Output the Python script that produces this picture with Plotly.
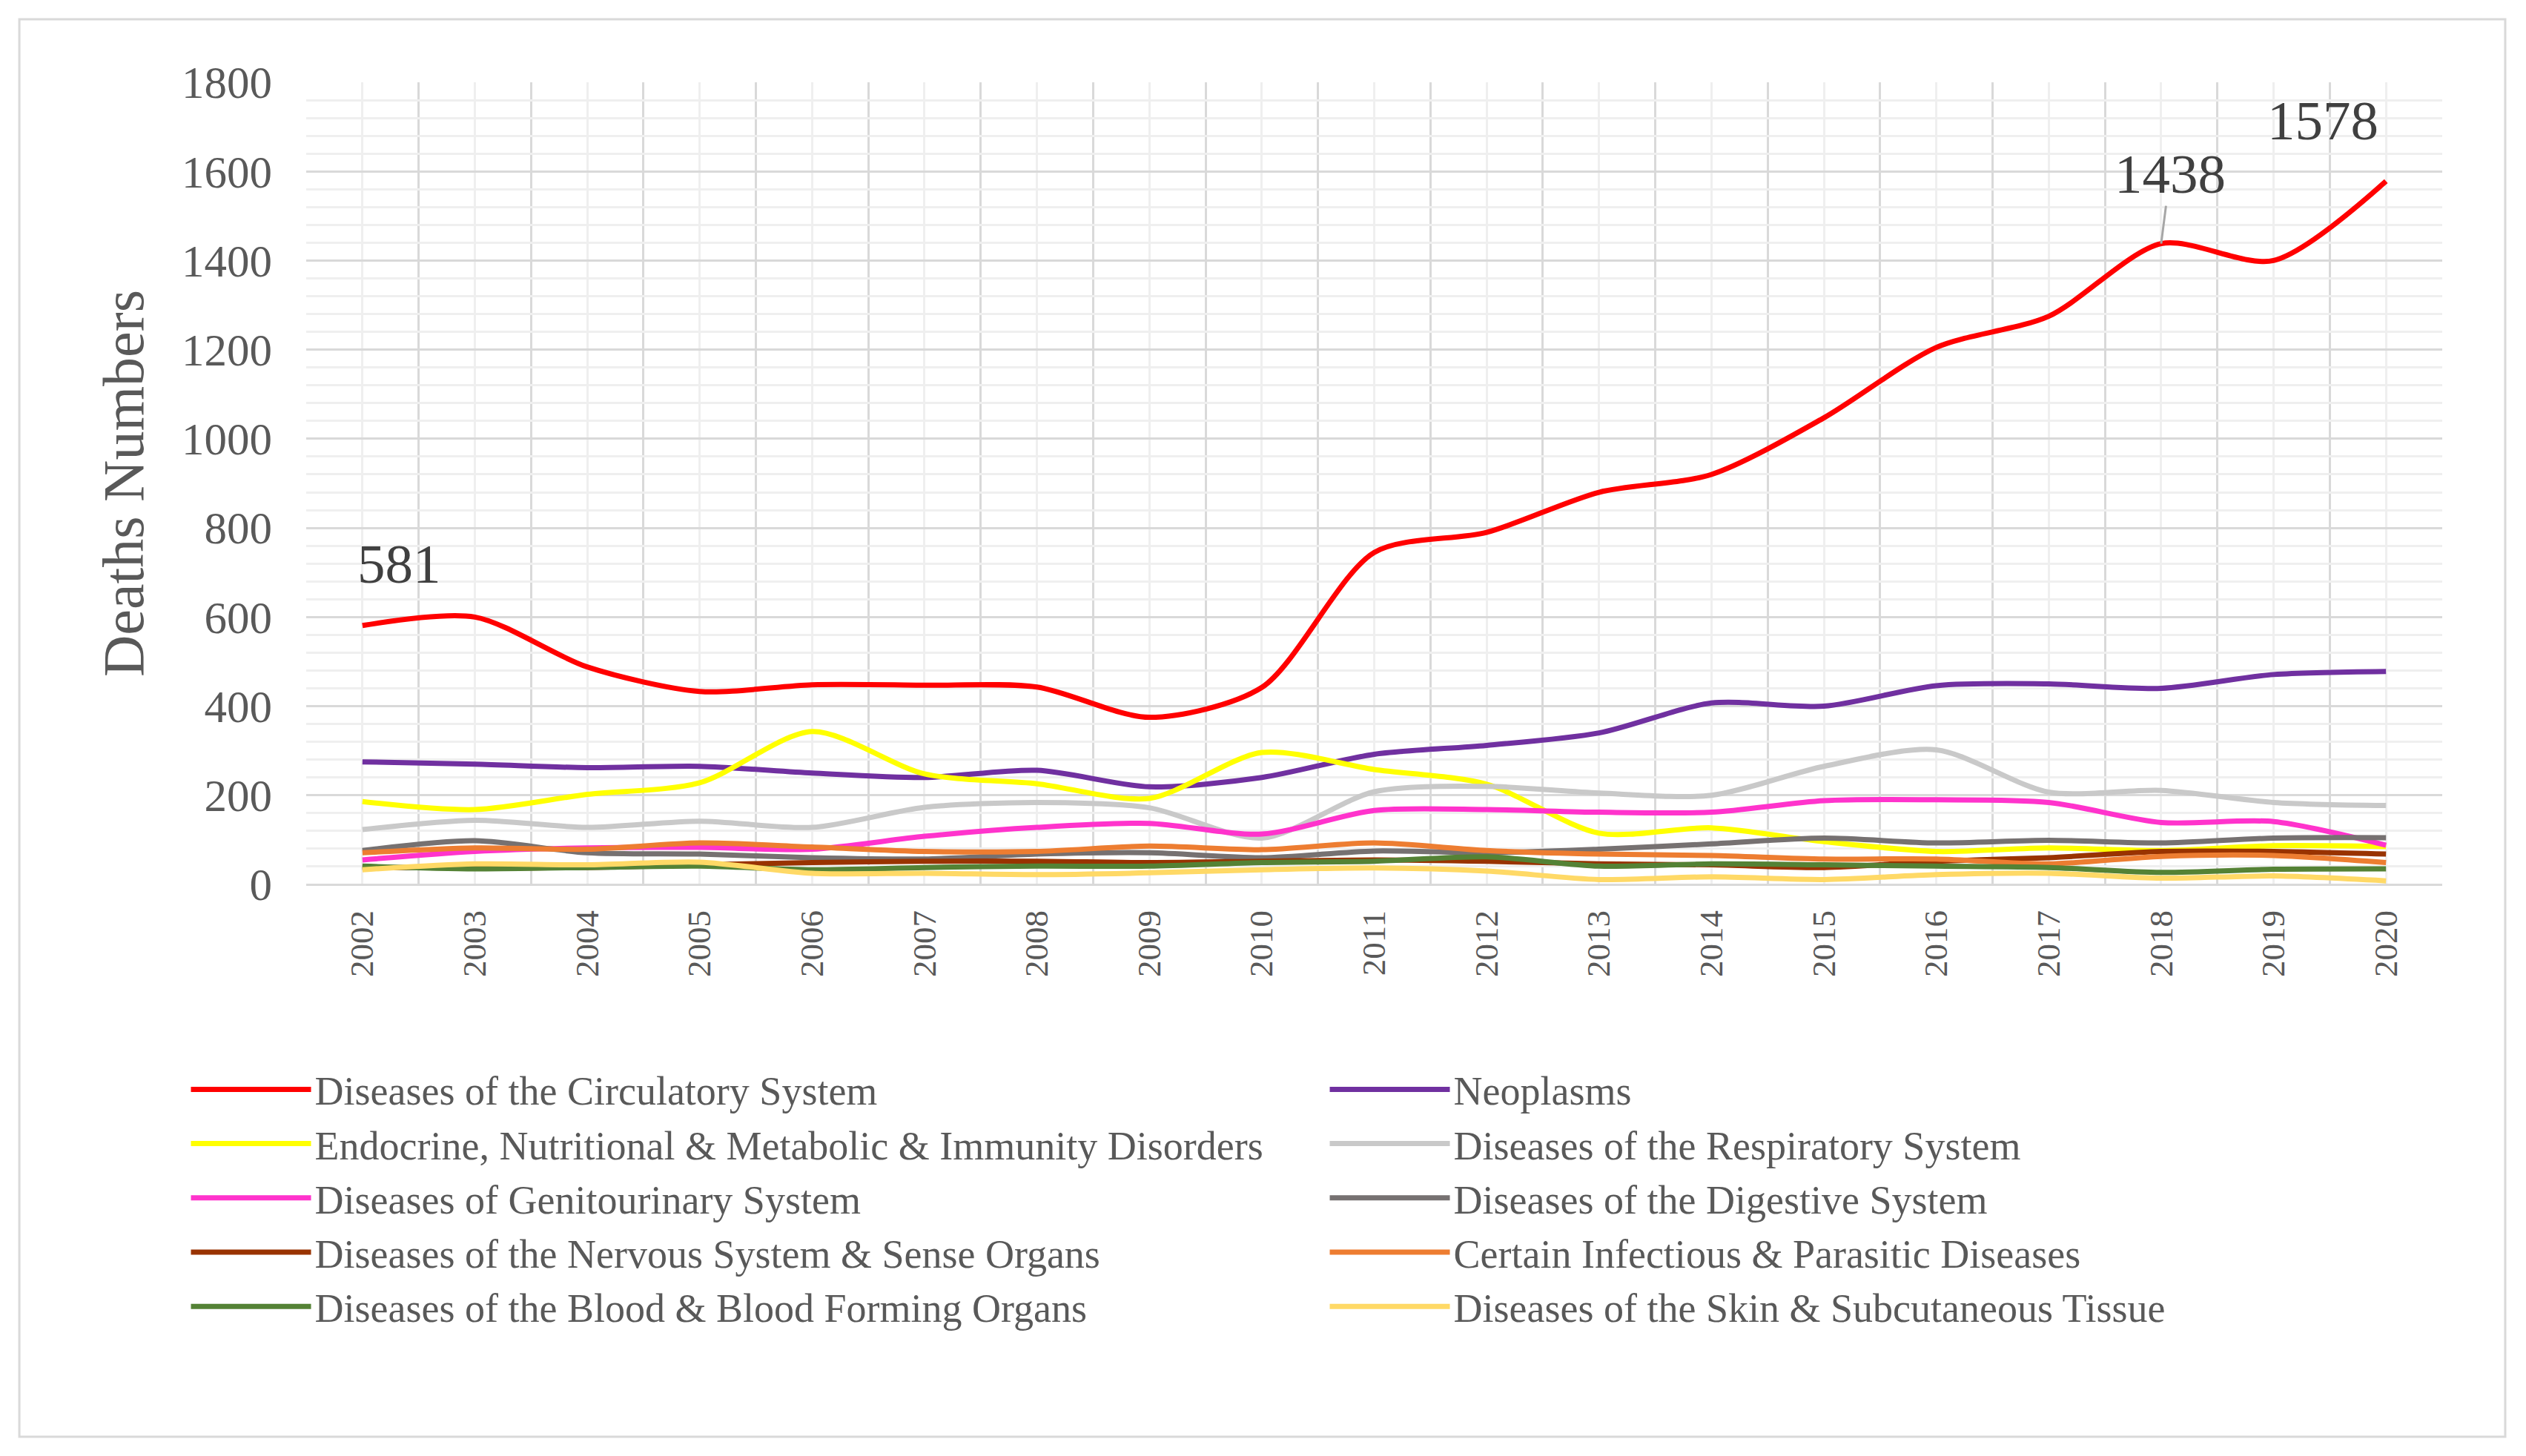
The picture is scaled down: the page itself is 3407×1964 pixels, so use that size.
import plotly.graph_objects as go

YEARS = list(range(2002, 2021))

CIRCULATORY = [581, 600, 488, 433, 448, 447, 443, 375, 442, 745, 790, 880, 920, 1047, 1205, 1275, 1438, 1400, 1578]
NEOPLASMS = [275, 270, 262, 265, 250, 240, 256, 219, 240, 292, 312, 340, 407, 400, 446, 450, 440, 471, 478]
ENDOCRINE = [186, 168, 202, 228, 343, 248, 226, 193, 296, 258, 225, 115, 127, 96, 74, 82, 76, 87, 85]
RESPIRATORY = [123, 144, 128, 142, 128, 173, 184, 172, 104, 208, 220, 205, 200, 265, 302, 207, 211, 184, 177]
GENITOURINARY = [55, 74, 82, 83, 79, 108, 128, 137, 113, 166, 168, 162, 162, 188, 190, 184, 139, 141, 88]
DIGESTIVE = [76, 98, 71, 68, 60, 57, 68, 71, 60, 75, 71, 79, 91, 104, 93, 99, 93, 104, 105]
NERVOUS = [38, 37, 38, 44, 49, 52, 52, 49, 52, 55, 52, 46, 44, 38, 52, 60, 74, 74, 68]
INFECTIOUS = [71, 82, 79, 93, 84, 74, 74, 86, 78, 93, 76, 68, 65, 57, 57, 46, 63, 65, 49]
BLOOD = [41, 35, 38, 41, 33, 38, 41, 41, 49, 52, 62, 41, 46, 44, 41, 38, 27, 34, 35]
SKIN = [33, 46, 44, 50, 25, 25, 22, 26, 33, 37, 30, 11, 17, 11, 22, 25, 14, 19, 8]

# legend order is row by row (two columns)
SERIES = [
    ("Diseases of the Circulatory System", CIRCULATORY, "#FF0000"),
    ("Neoplasms", NEOPLASMS, "#7030A0"),
    ("Endocrine, Nutritional & Metabolic & Immunity Disorders", ENDOCRINE, "#FFFF00"),
    ("Diseases of the Respiratory System", RESPIRATORY, "#C9C9C9"),
    ("Diseases of Genitourinary System", GENITOURINARY, "#FF33CC"),
    ("Diseases of the Digestive System", DIGESTIVE, "#767171"),
    ("Diseases of the Nervous System & Sense Organs", NERVOUS, "#993300"),
    ("Certain Infectious & Parasitic Diseases", INFECTIOUS, "#ED7D31"),
    ("Diseases of the Blood & Blood Forming Organs", BLOOD, "#548235"),
    ("Diseases of the Skin & Subcutaneous Tissue", SKIN, "#FFD966"),
]

LABELLED = [(2002, 581, False), (2018, 1438, True), (2020, 1578, False)]

FONT = "Liberation Serif"
TEXT_COLOR = "#595959"
GRID_MAJOR = "#D9D9D9"
GRID_MINOR = "#EFEFEF"

fig = go.Figure()

for name, values, color in SERIES:
    fig.add_trace(
        go.Scatter(
            x=YEARS,
            y=values,
            name=name,
            mode="lines",
            line=dict(color=color, width=7, shape="spline", smoothing=0.8),
        )
    )

# value labels on the circulatory line
offsets = {2002: (50, 83), 2018: (12, -94), 2020: (-85, 82)}
for year, value, leader in LABELLED:
    dx, dy = offsets[year]
    if leader:
        fig.add_annotation(
            x=year, y=value, text=str(value), showarrow=True, arrowhead=0,
            arrowwidth=3, arrowcolor="#A6A6A6", ax=dx, ay=dy,
            font=dict(family=FONT, size=75, color="#404040"),
        )
    else:
        fig.add_annotation(
            x=year, y=value, text=str(value), showarrow=False,
            xshift=dx, yshift=dy,
            font=dict(family=FONT, size=75, color="#404040"),
        )

# chart area border
fig.add_shape(
    type="rect", xref="paper", yref="paper",
    x0=-0.1343, x1=1.0295, y0=-0.6885, y1=1.0786,
    line=dict(color=GRID_MAJOR, width=3), layer="below",
)

fig.update_layout(
    width=3399,
    height=1956,
    margin=dict(l=405, r=113, t=103, b=771),
    paper_bgcolor="white",
    plot_bgcolor="white",
    font=dict(family=FONT, color=TEXT_COLOR),
    showlegend=True,
    legend=dict(
        orientation="h",
        x=-0.0557,
        y=-0.217,
        xanchor="left",
        yanchor="top",
        entrywidth=1359,
        itemwidth=162,
        font=dict(family=FONT, size=54, color=TEXT_COLOR),
        tracegroupgap=0,
    ),
)

fig.update_xaxes(
    range=[2001.5, 2020.5],
    tickvals=YEARS,
    ticktext=[str(y) for y in YEARS],
    tickangle=-90,
    tickfont=dict(family=FONT, size=45, color=TEXT_COLOR),
    ticklabelstandoff=25,
    showgrid=True,
    gridcolor=GRID_MINOR,
    gridwidth=3,
    minor=dict(
        tickvals=[y + 0.5 for y in range(2001, 2021)],
        showgrid=True,
        gridcolor=GRID_MAJOR,
        gridwidth=3,
    ),
    zeroline=False,
    showline=False,
)

fig.update_yaxes(
    range=[0, 1800],
    dtick=200,
    tickfont=dict(family=FONT, size=61, color=TEXT_COLOR),
    ticklabelstandoff=45,
    showgrid=True,
    gridcolor=GRID_MAJOR,
    gridwidth=3,
    minor=dict(dtick=40, showgrid=True, gridcolor=GRID_MINOR, gridwidth=3),
    zeroline=True,
    zerolinecolor=GRID_MAJOR,
    zerolinewidth=3,
    title=dict(text="Deaths Numbers", font=dict(family=FONT, size=78, color=TEXT_COLOR), standoff=25),
)

fig.write_html("out.html")
